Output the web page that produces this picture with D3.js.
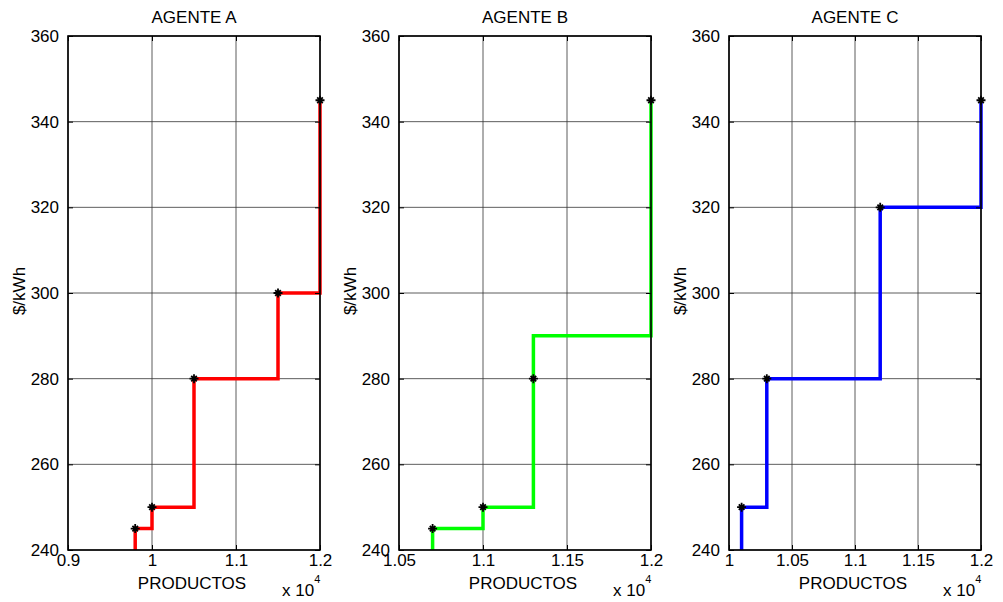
<!DOCTYPE html>
<html><head><meta charset="utf-8">
<script src="https://cdn.jsdelivr.net/npm/d3@7"></script>
<style>body{margin:0;background:#fff;} text{font-family:"Liberation Sans",Arial,sans-serif;fill:#000;}</style>
</head><body>
<svg id="c" width="1003" height="602"></svg>
<script>
// ---- data ----
const titles = ["AGENTE A", "AGENTE B", "AGENTE C"];
const colors = ["#ff0000", "#00ff00", "#0000ff"];
const xDomains = [[9000, 12000], [10500, 12000], [10000, 12000]];
const xTicksA = [9000, 10000, 11000, 12000];
const xTicksB = [10500, 11000, 11500, 12000];
const xTicksC = [10000, 10500, 11000, 11500, 12000];
const yTicks = [240, 260, 280, 300, 320, 340, 360];
// step lines
const stepXA = [9800, 10000, 10500, 11500, 12000];
const stepYA = [245, 250, 280, 300, 345];
const stepXB = [10700, 11000, 11300, 12000];
const stepYB = [245, 250, 290, 345];
const stepXC = [10100, 10300, 11200, 12000];
const stepYC = [250, 280, 320, 345];
// markers
const markXA = [9800, 10000, 10500, 11500, 12000];
const markYA = [245, 250, 280, 300, 345];
const markXB = [10700, 11000, 11300, 12000];
const markYB = [245, 250, 280, 345];
const markXC = [10100, 10300, 11200, 12000];
const markYC = [250, 280, 320, 345];

const panels = [
  {title: titles[0], color: colors[0], dom: xDomains[0], ticks: xTicksA, sx: stepXA, sy: stepYA, mx: markXA, my: markYA},
  {title: titles[1], color: colors[1], dom: xDomains[1], ticks: xTicksB, sx: stepXB, sy: stepYB, mx: markXB, my: markYB},
  {title: titles[2], color: colors[2], dom: xDomains[2], ticks: xTicksC, sx: stepXC, sy: stepYC, mx: markXC, my: markYC}
];

const svg = d3.select("#c");
const lefts = [68, 399, 729];
const W = 252, plotTop = 36, plotBottom = 550;
const fs = 17;

panels.forEach((p, i) => {
  const x = d3.scaleLinear().domain(p.dom).range([lefts[i], lefts[i] + W]);
  const y = d3.scaleLinear().domain([240, 360]).range([plotBottom, plotTop]);
  const g = svg.append("g");

  // grid
  g.selectAll(".gx").data(p.ticks).enter().append("line")
    .attr("x1", d => x(d)).attr("x2", d => x(d)).attr("y1", plotTop).attr("y2", plotBottom)
    .attr("stroke", "#333").attr("stroke-width", 0.8);
  g.selectAll(".gy").data(yTicks).enter().append("line")
    .attr("y1", d => y(d)).attr("y2", d => y(d)).attr("x1", lefts[i]).attr("x2", lefts[i] + W)
    .attr("stroke", "#333").attr("stroke-width", 0.8);

  // step line
  const pts = [[p.sx[0], 240]];
  p.sx.forEach((xv, k) => {
    pts.push([xv, p.sy[k]]);
    if (k < p.sx.length - 1) pts.push([p.sx[k + 1], p.sy[k]]);
  });
  g.append("path").datum(pts)
    .attr("d", d3.line().x(d => x(d[0])).y(d => y(d[1])))
    .attr("fill", "none").attr("stroke", p.color).attr("stroke-width", 3.5);

  // axes
  const xa = g.append("g").attr("transform", `translate(0,${plotBottom})`)
    .call(d3.axisBottom(x).tickValues(p.ticks).tickSize(-5).tickPadding(7)
      .tickFormat(d => d3.format("~g")(d / 10000)));
  xa.select(".domain").remove();
  const xt = g.append("g").attr("transform", `translate(0,${plotTop})`)
    .call(d3.axisTop(x).tickValues(p.ticks).tickSize(-5).tickFormat(""));
  xt.select(".domain").remove();
  const ya = g.append("g").attr("transform", `translate(${lefts[i]},0)`)
    .call(d3.axisLeft(y).tickValues(yTicks).tickSize(-5).tickPadding(9));
  ya.select(".domain").remove();
  const yr = g.append("g").attr("transform", `translate(${lefts[i] + W},0)`)
    .call(d3.axisRight(y).tickValues(yTicks).tickSize(-5).tickFormat(""));
  yr.select(".domain").remove();
  g.selectAll(".tick line").attr("stroke", "#000").attr("stroke-width", 1);
  g.selectAll(".tick text").attr("font-size", fs).attr("font-family", "Liberation Sans, Arial, sans-serif");
  xa.selectAll(".tick text").attr("dy", "0.55em");

  g.append("rect").attr("x", lefts[i]).attr("y", plotTop).attr("width", W).attr("height", plotBottom - plotTop)
    .attr("fill", "none").attr("stroke", "#000").attr("stroke-width", 1.6);

  // markers
  const mk = p.mx.map((v, k) => [v, p.my[k]]);
  g.selectAll(".mk").data(mk).enter().append("path")
    .attr("transform", d => `translate(${x(d[0])},${y(d[1])})`)
    .attr("d", "M-4.5,0L4.5,0M0,-4.5L0,4.5M-2.8,-2.8L2.8,2.8M-2.8,2.8L2.8,-2.8")
    .attr("stroke", "#000").attr("stroke-width", 1.8);

  // labels
  g.append("text").attr("x", lefts[i] + W / 2).attr("y", 23).attr("text-anchor", "middle")
    .attr("font-size", fs).text(p.title);
  g.append("text").attr("x", lefts[i] + W / 2 - 2).attr("y", 589).attr("text-anchor", "middle")
    .attr("font-size", fs).text("PRODUCTOS");
  g.append("text").attr("transform", `translate(${lefts[i] - 43},${(plotTop + plotBottom) / 2 - 2}) rotate(-90)`)
    .attr("text-anchor", "middle").attr("font-size", fs).text("$/kWh");
  const ex = g.append("text").attr("x", lefts[i] + W - 38).attr("y", 596).attr("font-size", 17);
  ex.append("tspan").text("x 10");
  ex.append("tspan").attr("font-size", 11).attr("dy", -13).text("4");
});
</script>
</body></html>
